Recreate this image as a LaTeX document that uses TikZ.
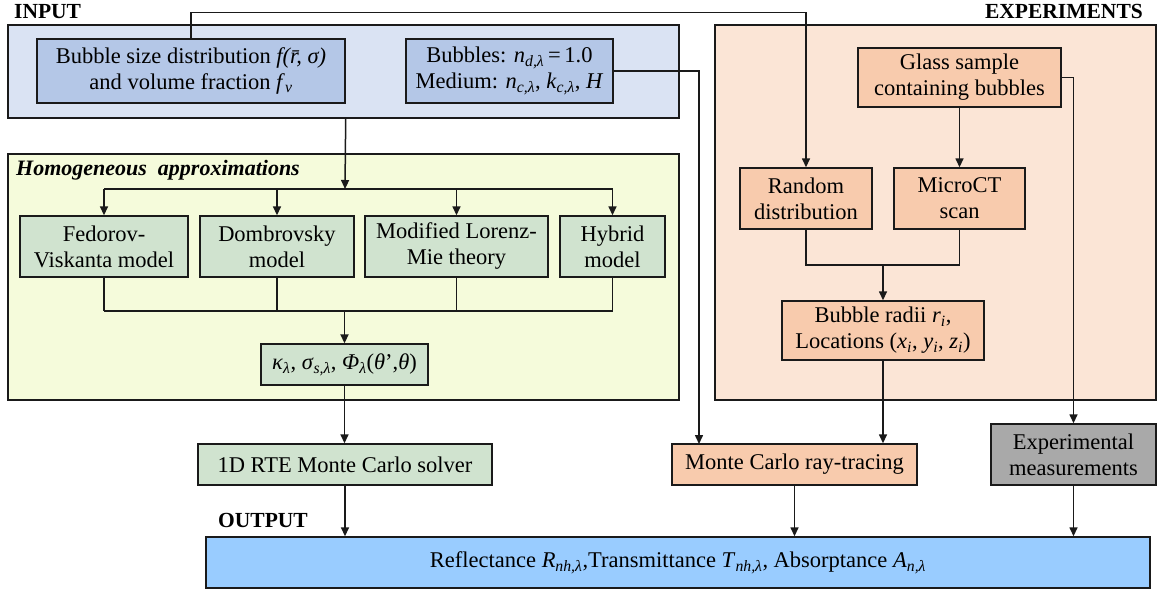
\documentclass[tikz,border=0pt]{standalone}
\usepackage{fontspec}
\setmainfont{Liberation Serif}
\usetikzlibrary{arrows.meta,calc}
\definecolor{linec}{HTML}{1A1A1A}
\definecolor{inbg}{HTML}{DAE3F3}
\definecolor{inbox}{HTML}{B4C7E7}
\definecolor{hombg}{HTML}{F5FBDB}
\definecolor{grbox}{HTML}{D0E3CF}
\definecolor{expbg}{HTML}{FBE5D6}
\definecolor{orbox}{HTML}{F8CBAD}
\definecolor{gybox}{HTML}{A9A9A9}
\definecolor{outbox}{HTML}{99CCFF}
\newcommand{\ssb}[1]{\textsubscript{\textit{#1}}}
\begin{document}
\begin{tikzpicture}[x=1pt,y=-1pt,
  container/.style={draw=linec,line width=1.4pt,inner sep=0pt},
  box/.style={draw=linec,line width=1.4pt,align=center,inner sep=0pt,
    font=\fontsize{22.5}{26}\selectfont},
  ln/.style={draw=linec,line width=1.5pt},
  arr/.style={draw=linec,line width=1.5pt,-{Triangle[length=9pt,width=8pt]}},
  lbl/.style={font=\fontsize{21.5}{24}\selectfont\bfseries,inner sep=0pt}]
\useasboundingbox (0,0) rectangle (1160,592);
% containers
\node[container,fill=inbg,minimum width=671pt,minimum height=93pt] (inputC) at (343.5,71.5) {};
\node[container,fill=hombg,minimum width=671pt,minimum height=246pt] (homC) at (343.5,277) {};
\node[container,fill=expbg,minimum width=441pt,minimum height=375pt] (expC) at (935.5,212.5) {};
% labels
\node[lbl,anchor=base west] (inlbl) at (14,18) {INPUT};
\node[lbl,anchor=base east] (explbl) at (1143,18) {EXPERIMENTS};
\node[lbl,anchor=base west,font=\fontsize{22}{24}\selectfont\bfseries\itshape] (homlbl) at (16,175) {Homogeneous\ \ approximations};
\node[lbl,anchor=base west] (outlbl) at (218,527) {OUTPUT};
% input boxes
\node[box,fill=inbox,minimum width=308pt,minimum height=64pt] (bsd) at (191,71)
  {Bubble size distribution \textit{f(\=r, σ)}\\and volume fraction \textit{f}\ssb{v}};
\node[box,fill=inbox,minimum width=207pt,minimum height=64pt] (bub) at (509.5,71)
  {Bubbles: \textit{n}\ssb{d,λ}\,=\,1.0\\Medium: \textit{n}\ssb{c,λ}, \textit{k}\ssb{c,λ}, \textit{H}};
% homogeneous boxes
\node[box,fill=grbox,minimum width=168pt,minimum height=61pt] (fed) at (104,246.5) {Fedorov-\\Viskanta model};
\node[box,fill=grbox,minimum width=154pt,minimum height=61pt] (dom) at (277,246.5) {Dombrovsky\\model};
\node[box,fill=grbox,minimum width=183pt,minimum height=61pt] (mod) at (456.5,246.5) {Modified Lorenz-\\Mie theory};
\node[box,fill=grbox,minimum width=105pt,minimum height=61pt] (hyb) at (612.5,246.5) {Hybrid\\model};
\node[box,fill=grbox,minimum width=167pt,minimum height=41pt] (kap) at (344.5,364.5)
  {\textit{κ}\ssb{λ}, \textit{σ}\ssb{s,λ}, \textit{Φ}\ssb{λ}(\textit{θ}’,\textit{θ})};
% experiments boxes
\node[box,fill=orbox,minimum width=203pt,minimum height=59pt] (glass) at (959.5,77.5) {Glass sample\\containing bubbles};
\node[box,fill=orbox,minimum width=132pt,minimum height=61pt] (rand) at (806,198.5) {Random\\distribution};
\node[box,fill=orbox,minimum width=131pt,minimum height=61pt] (micro) at (959.5,198.5) {MicroCT\\scan};
\node[box,fill=orbox,minimum width=202pt,minimum height=59pt] (radii) at (883,330.5)
  {Bubble radii \textit{r}\ssb{i},\\Locations (\textit{x}\ssb{i}, \textit{y}\ssb{i}, \textit{z}\ssb{i})};
% lower row
\node[box,fill=grbox,minimum width=294pt,minimum height=41pt] (rte) at (345,464.5) {1D RTE Monte Carlo solver};
\node[box,fill=orbox,minimum width=245pt,minimum height=41pt] (mc) at (794.5,464.5) {Monte Carlo ray-tracing};
\node[box,fill=gybox,minimum width=165pt,minimum height=61pt] (expm) at (1073.5,454.5) {Experimental\\measurements};
\node[box,fill=outbox,minimum width=944pt,minimum height=51pt] (out) at (678,562.5)
  {Reflectance \textit{R}\ssb{nh,λ},Transmittance \textit{T}\ssb{nh,λ}, Absorptance \textit{A}\ssb{n,λ}};
% coordinates
\coordinate (fork) at (345,189);
\coordinate (merge) at (344.5,311);
\coordinate (join) at (883,265);
\coordinate (mcin) at (699,444);
% connectors: input
\draw[arr] (bsd.north) -- ++(0,-26) -| (rand.north);
\draw[arr] (bub.east) -| (mcin);
% homogeneous fork
\draw[arr] (bsd.east |- inputC.south) -- (fork);
\draw[ln] (fed.north |- fork) -- (hyb.north |- fork);
\foreach \n in {fed,dom,mod,hyb} \draw[arr] (\n.north |- fork) -- (\n.north);
\foreach \n in {fed,dom,mod,hyb} \draw[ln] (\n.south) -- (\n.south |- merge);
\draw[ln] (fed.south |- merge) -- (hyb.south |- merge);
\draw[arr,line width=1.8pt] (merge) -- (kap.north);
\draw[arr] (kap.south) -- (kap.south |- rte.north);
% experiments
\draw[arr] (glass.south) -- (micro.north);
\draw[arr] (glass.east) -| (expm.north);
\draw[ln] (rand.south) |- (join) -| (micro.south);
\draw[arr] (join) -- (radii.north);
\draw[arr] (radii.south) -- (radii.south |- mc.north);
% outputs
\draw[arr] (rte.south) -- (rte.south |- out.north);
\draw[arr] (mc.south) -- (mc.south |- out.north);
\draw[arr] (expm.south) -- (expm.south |- out.north);
\end{tikzpicture}
\end{document}
